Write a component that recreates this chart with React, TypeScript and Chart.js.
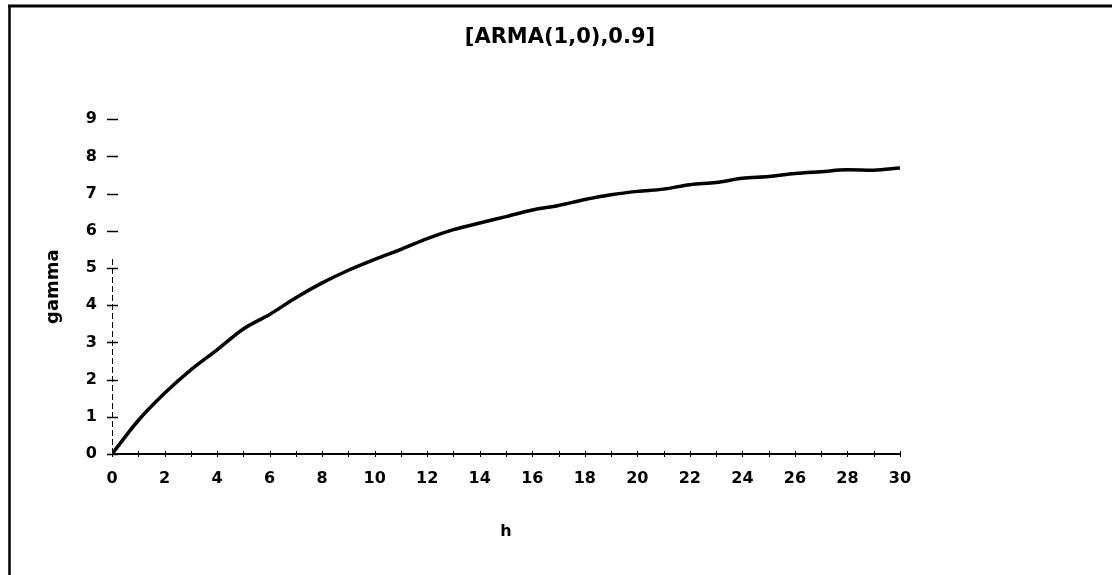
import React, { useEffect, useRef } from "react";
import { Chart, registerables } from "chart.js";

Chart.register(...registerables);

const TITLE = "[ARMA(1,0),0.9]";
const X_TITLE = "h";
const Y_TITLE = "gamma";

const H = [0, 1, 2, 3, 4, 5, 6, 7, 8, 9, 10, 11, 12, 13, 14, 15, 16, 17, 18, 19, 20, 21, 22, 23, 24, 25, 26, 27, 28, 29, 30];
const GAMMA = [0, 0.9, 1.63, 2.26, 2.8, 3.36, 3.75, 4.2, 4.6, 4.94, 5.23, 5.5, 5.79, 6.03, 6.21, 6.38, 6.56, 6.68, 6.84, 6.97, 7.06, 7.12, 7.24, 7.3, 7.41, 7.46, 7.54, 7.59, 7.64, 7.63, 7.69];

const X_MIN = 0;
const X_MAX = 30;
const X_LABEL_STEP = 2;
const X_MINOR_STEP = 1;
const Y_MIN = 0;
const Y_MAX = 9;
const Y_STEP = 1;
const Y_AXIS_LINE_TOP = 5.3;

const FONT = "'DejaVu Sans', sans-serif";

const decorPlugin = {
  id: "decor",
  beforeDraw(chart: any) {
    const { ctx, width, height } = chart;
    ctx.save();
    ctx.fillStyle = "#fff";
    ctx.fillRect(0, 0, width, height);
    ctx.strokeStyle = "#000";
    ctx.lineWidth = 3;
    ctx.beginPath();
    ctx.moveTo(8, 6);
    ctx.lineTo(width, 6);
    ctx.stroke();
    ctx.lineWidth = 2.5;
    ctx.beginPath();
    ctx.moveTo(9.5, 5);
    ctx.lineTo(9.5, height);
    ctx.stroke();
    ctx.restore();
  },
  afterDatasetsDraw(chart: any) {
    const { ctx } = chart;
    const xs = chart.scales.x;
    const ys = chart.scales.y;
    const x0 = xs.getPixelForValue(X_MIN);
    const x1 = xs.getPixelForValue(X_MAX);
    const y0 = ys.getPixelForValue(Y_MIN);
    ctx.save();
    ctx.strokeStyle = "#000";
    ctx.lineWidth = 1;
    ctx.setLineDash([6, 3]);
    ctx.beginPath();
    ctx.moveTo(x0 + 0.5, y0);
    ctx.lineTo(x0 + 0.5, ys.getPixelForValue(Y_AXIS_LINE_TOP));
    ctx.stroke();
    ctx.setLineDash([]);
    ctx.lineWidth = 1.5;
    for (let v = Y_MIN; v <= Y_MAX; v += Y_STEP) {
      const py = Math.round(ys.getPixelForValue(v)) + 0.5;
      ctx.beginPath();
      ctx.moveTo(x0 - 5, py);
      ctx.lineTo(x0 + 6, py);
      ctx.stroke();
    }
    ctx.lineWidth = 2;
    ctx.beginPath();
    ctx.moveTo(x0, y0);
    ctx.lineTo(x1, y0);
    ctx.stroke();
    ctx.lineWidth = 1;
    for (let v = X_MIN; v <= X_MAX; v += X_MINOR_STEP) {
      const px = Math.round(xs.getPixelForValue(v)) + 0.5;
      ctx.beginPath();
      ctx.moveTo(px, y0 - 3);
      ctx.lineTo(px, y0 + 3);
      ctx.stroke();
    }
    ctx.restore();
  },
};

export default function App() {
  const canvasRef = useRef<HTMLCanvasElement | null>(null);

  useEffect(() => {
    const canvas = canvasRef.current;
    if (!canvas) return;
    const chart = new Chart(canvas, {
      type: "line",
      data: {
        datasets: [
          {
            data: H.map((h, i) => ({ x: h, y: GAMMA[i] })),
            borderColor: "#000",
            borderWidth: 3.5,
            pointRadius: 0,
            fill: false,
            cubicInterpolationMode: "monotone",
          },
        ],
      },
      options: {
        animation: false,
        responsive: false,
        events: [],
        layout: { padding: { left: 8, right: 0, top: 0, bottom: 0 } },
        plugins: {
          legend: { display: false },
          tooltip: { enabled: false },
          title: {
            display: true,
            text: TITLE,
            color: "#000",
            font: { family: FONT, size: 21, weight: "bold" },
            padding: { top: 25, bottom: 69 },
          },
        },
        scales: {
          x: {
            type: "linear",
            min: X_MIN,
            max: X_MAX,
            grid: { display: false, drawTicks: false },
            border: { display: false },
            ticks: {
              stepSize: X_LABEL_STEP,
              color: "#000",
              padding: 15,
              maxRotation: 0,
              font: { family: FONT, size: 16, weight: "bold" },
            },
            title: {
              display: true,
              text: X_TITLE,
              color: "#000",
              font: { family: FONT, size: 16, weight: "bold" },
              padding: { top: 0, bottom: 34 },
            },
            afterFit: (s: any) => {
              s.height = 121;
            },
          },
          y: {
            type: "linear",
            min: Y_MIN,
            max: Y_MAX,
            grid: { display: false, drawTicks: false },
            border: { display: false },
            ticks: {
              stepSize: Y_STEP,
              color: "#000",
              padding: 15,
              font: { family: FONT, size: 16, weight: "bold" },
            },
            title: {
              display: true,
              text: Y_TITLE,
              color: "#000",
              font: { family: FONT, size: 18, weight: "bold" },
              padding: { top: 35, bottom: 0 },
            },
            afterFit: (s: any) => {
              s.width = 104;
            },
          },
          spacer: {
            type: "linear",
            position: "right",
            min: 0,
            max: 1,
            display: true,
            grid: { display: false, drawTicks: false },
            border: { display: false },
            ticks: { display: false },
            afterFit: (s: any) => {
              s.width = 212;
            },
          },
        },
      } as any,
      plugins: [decorPlugin],
    });
    return () => chart.destroy();
  }, []);

  return (
    <div style={{ position: "absolute", left: 0, top: 0, width: 1112, height: 575, background: "#fff" }}>
      <canvas ref={canvasRef} width={1112} height={575} style={{ display: "block" }} />
    </div>
  );
}
